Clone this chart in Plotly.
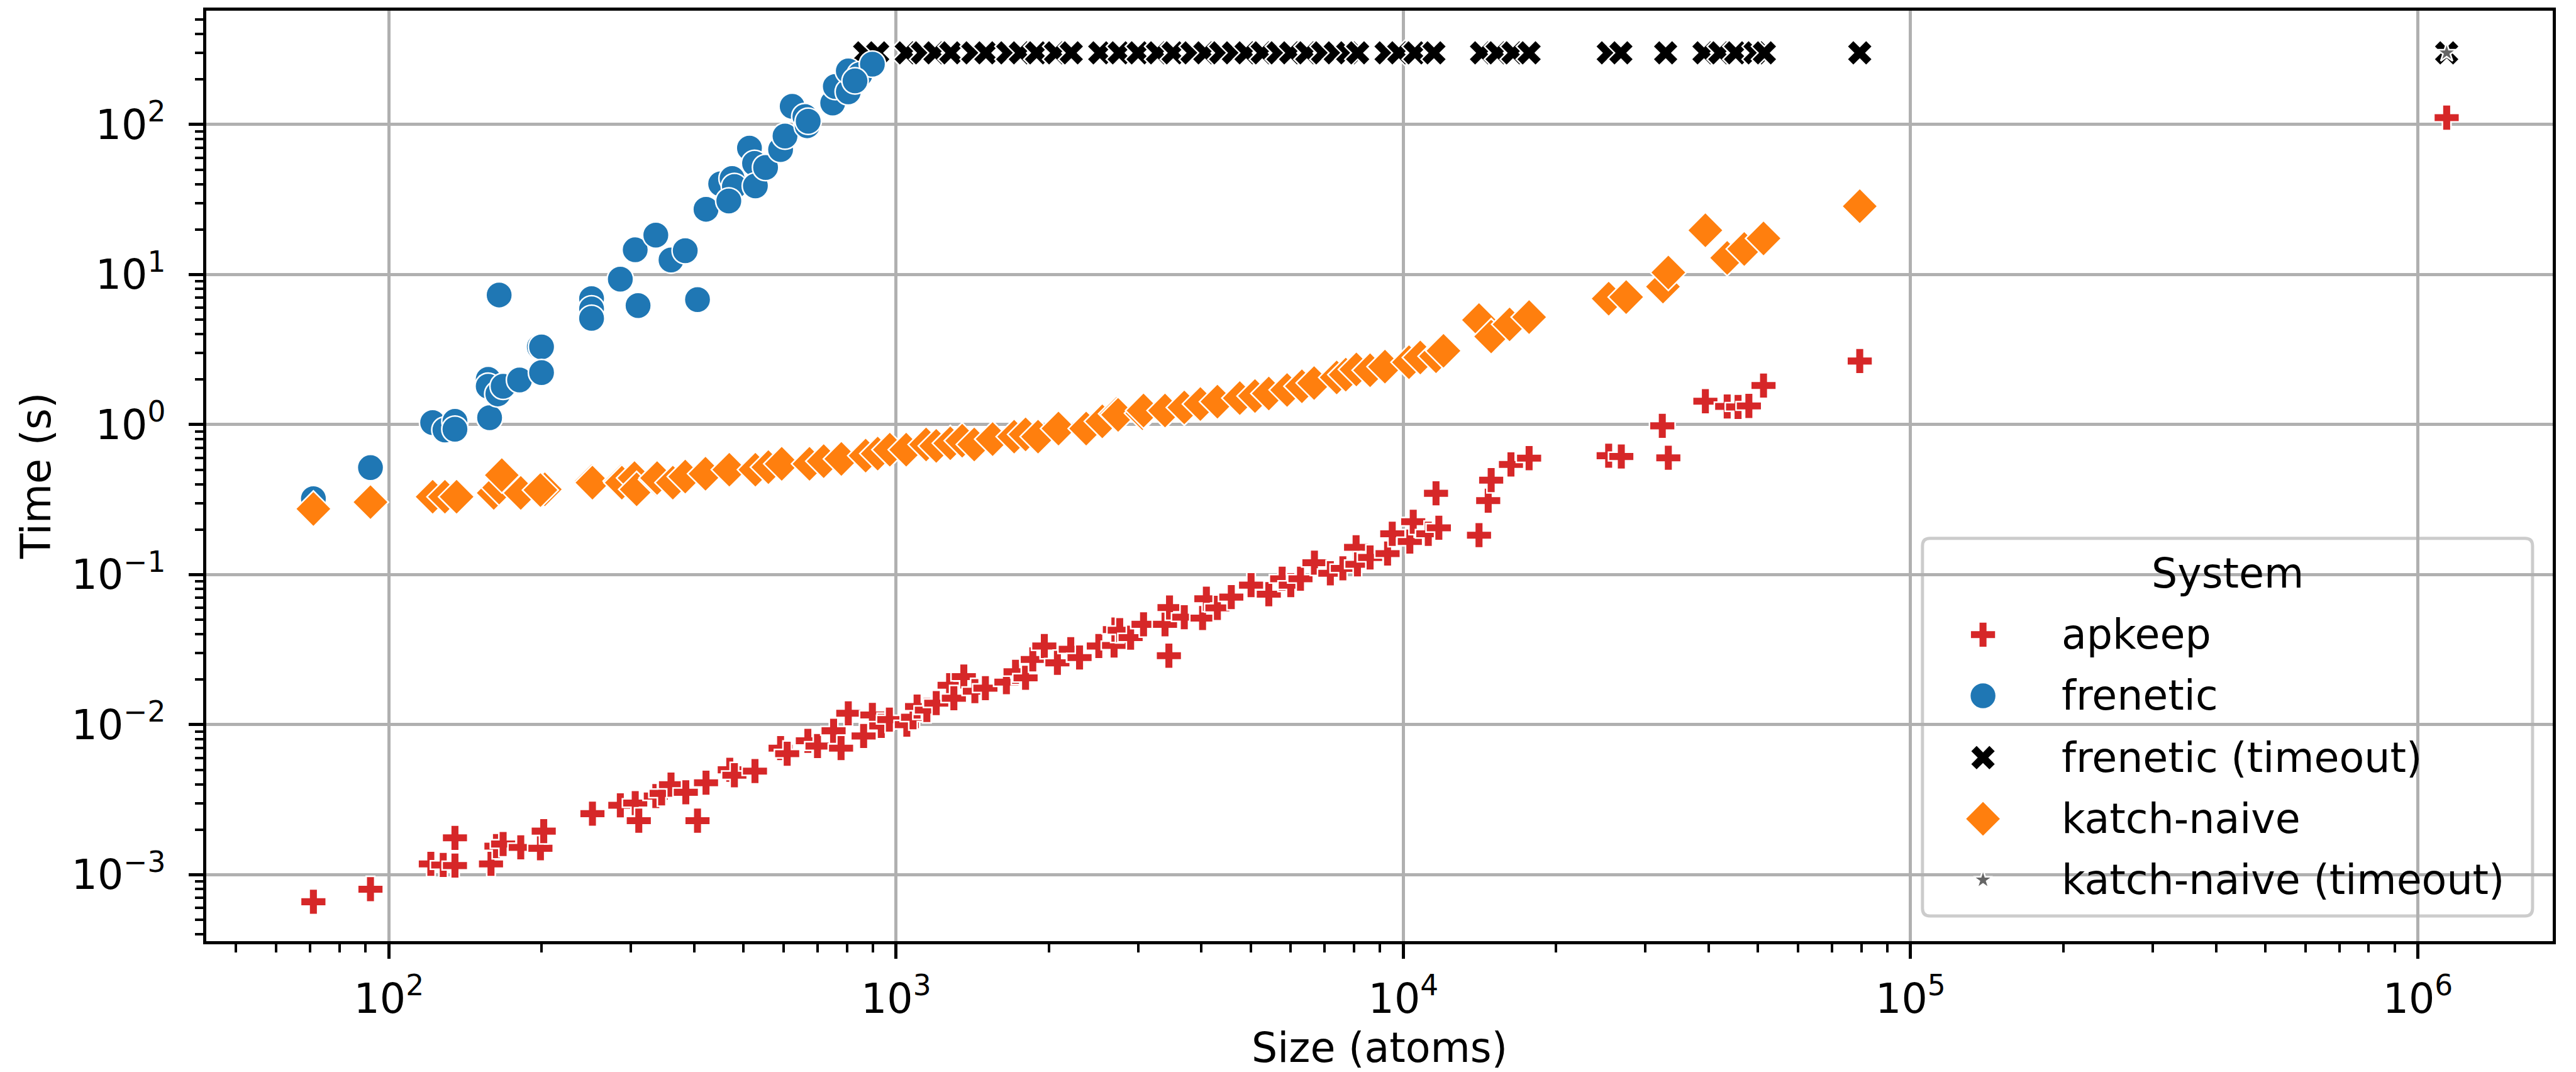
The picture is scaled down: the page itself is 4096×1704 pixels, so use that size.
import plotly.graph_objects as go

# ---------------- data: problem size (atoms) vs. running time (s) ----------------
apkeep_size = [71, 92, 121, 128, 135, 135, 159, 163, 168, 182, 199, 202, 252, 286, 306, 311,
               336, 345, 360, 385, 406, 422, 470, 480, 527, 592, 610, 670, 700, 753, 779, 805,
               863, 898, 935, 970, 1050, 1080, 1100, 1150, 1200, 1275, 1300, 1360, 1430, 1500,
               1650, 1720, 1800, 1860, 1960, 2080, 2210, 2300, 2510, 2690, 2700, 2760, 2900,
               3075, 3390, 3450, 3460, 3700, 4020, 4090, 4300, 4580, 5010, 5430, 5770, 6000,
               6270, 6680, 7180, 7600, 8070, 8120, 8600, 9310, 9510, 10300, 10460, 11200,
               11600, 11750, 14100, 14700, 14900, 16300, 17700, 25400, 26900, 32400, 33300,
               39400, 43500, 45700, 48000, 51300, 79400, 1140000]
apkeep_time = [0.00066, 0.0008, 0.00118, 0.00116, 0.00176, 0.00115, 0.00118, 0.00155, 0.0016,
               0.00152, 0.0015, 0.00195, 0.00255, 0.0029, 0.003, 0.00229, 0.00334, 0.00348,
               0.00398, 0.00354, 0.00229, 0.0041, 0.005, 0.0046, 0.0049, 0.00697, 0.0064,
               0.0078, 0.0072, 0.0091, 0.00697, 0.0119, 0.0084, 0.0116, 0.0098, 0.0108, 0.01,
               0.0112, 0.0132, 0.0125, 0.0139, 0.0183, 0.015, 0.0209, 0.0167, 0.0175, 0.0192,
               0.0225, 0.0205, 0.0272, 0.0334, 0.0258, 0.0318, 0.028, 0.0334, 0.0337, 0.043,
               0.0426, 0.038, 0.0466, 0.0466, 0.0288, 0.0603, 0.052, 0.0513, 0.069, 0.06,
               0.0708, 0.085, 0.074, 0.0938, 0.085, 0.0938, 0.12, 0.102, 0.11, 0.152, 0.117,
               0.13, 0.138, 0.187, 0.166, 0.225, 0.187, 0.348, 0.205, 0.183, 0.311, 0.426,
               0.542, 0.597, 0.62, 0.612, 0.98, 0.6, 1.43, 1.32, 1.31, 1.33, 1.82, 2.65, 111]

frenetic_size = [71, 92, 122, 129, 135, 135, 158, 157, 157, 164, 168, 165, 181, 198, 200, 200,
                 251, 251, 251, 286, 306, 310, 336, 360, 384, 406, 422, 451, 475, 480, 468,
                 514, 526, 528, 553, 592, 604, 624, 661, 668, 671, 750, 759, 805, 805, 849,
                 898, 830]
frenetic_time = [0.32, 0.516, 1.03, 0.92, 1.05, 0.93, 1.11, 2.0, 1.8, 1.6, 1.8, 7.3, 1.98, 3.29,
                 3.29, 2.22, 6.9, 5.9, 5.1, 9.3, 14.6, 6.2, 18.3, 12.5, 14.4, 6.8, 27.2, 40.2,
                 43.6, 38.6, 30.9, 69.5, 55, 38.9, 51.6, 68, 83.7, 132, 113, 98, 105, 139, 179,
                 165, 227, 215, 252, 195]

frenetic_timeout_size = [867, 920, 1047, 1127, 1193, 1282, 1417, 1503, 1660, 1758, 1892, 2062,
                         2215, 2521, 2753, 3000, 3275, 3517, 3831, 4062, 4365, 4624, 4897, 5270,
                         5662, 5996, 6452, 6932, 7342, 7769, 8128, 9247, 9795, 10540, 11490,
                         14260, 15310, 16450, 17700, 25350, 26850, 32900, 39150, 42070, 45200,
                         49350, 51500, 79400, 1140000]
frenetic_timeout_time = [300, 300, 300, 300, 300, 300, 300, 300, 300, 300, 300, 300, 300, 300,
                         300, 300, 300, 300, 300, 300, 300, 300, 300, 300, 300, 300, 300, 300,
                         300, 300, 300, 300, 300, 300, 300, 300, 300, 300, 300, 300, 300, 300,
                         300, 300, 300, 300, 300, 300, 300]

katch_size = [71, 92, 122, 129, 136, 161, 165, 167, 182, 203, 199, 251, 252, 287, 288, 305, 308,
              337, 338, 363, 384, 421, 469, 528, 560, 595, 675, 720, 780, 871, 920, 972, 1047,
              1146, 1200, 1279, 1350, 1426, 1550, 1709, 1800, 1905, 2090, 2370, 2550, 2720,
              2740, 3060, 3075, 3390, 3700, 3980, 4300, 4760, 5100, 5430, 5900, 6310, 6670,
              7390, 7700, 8080, 8600, 9200, 10260, 10800, 11600, 12000, 14100, 14900, 16200,
              17700, 25400, 27500, 32500, 33300, 39400, 43500, 47000, 51300, 79400]
katch_time = [0.274, 0.304, 0.33, 0.33, 0.33, 0.35, 0.38, 0.46, 0.35, 0.37, 0.366, 0.42, 0.41,
              0.42, 0.41, 0.44, 0.37, 0.43, 0.44, 0.41, 0.45, 0.47, 0.50, 0.50, 0.52, 0.547,
              0.547, 0.57, 0.59, 0.62, 0.64, 0.68, 0.68, 0.736, 0.72, 0.75, 0.78, 0.736, 0.8,
              0.83, 0.86, 0.83, 0.94, 0.94, 1.05, 1.18, 1.16, 1.19, 1.24, 1.24, 1.3, 1.37, 1.42,
              1.5, 1.55, 1.61, 1.7, 1.8, 1.89, 2.06, 2.15, 2.33, 2.3, 2.43, 2.6, 2.8, 2.85, 3.1,
              4.97, 3.86, 4.65, 5.2, 6.9, 7.07, 8.3, 10.3, 19.7, 12.9, 14.8, 17.4, 28.5]

katch_timeout_size = [1140000]
katch_timeout_time = [300]

series_names = ["apkeep", "frenetic", "frenetic (timeout)", "katch-naive",
                "katch-naive (timeout)"]

x_tick_vals = [1e2, 1e3, 1e4, 1e5, 1e6]
x_tick_text = ["10<sup>2</sup>", "10<sup>3</sup>", "10<sup>4</sup>", "10<sup>5</sup>",
               "10<sup>6</sup>"]
y_tick_vals = [1e-3, 1e-2, 1e-1, 1e0, 1e1, 1e2]
y_tick_text = ["10<sup>−3</sup>", "10<sup>−2</sup>", "10<sup>−1</sup>", "10<sup>0</sup>",
               "10<sup>1</sup>", "10<sup>2</sup>"]

# ---------------- styling ----------------
W, H = 4096, 1704
ML, MR, MT, MB = 328, 37, 13, 208
FONT = "DejaVu Sans"
FS = 65

styles = {
    "apkeep": dict(symbol="cross", size=34, color="#d62728"),
    "frenetic": dict(symbol="circle", size=42, color="#1f77b4"),
    "frenetic (timeout)": dict(symbol="x", size=36, color="#000000"),
    "katch-naive": dict(symbol="diamond", size=44, color="#ff7f0e"),
    "katch-naive (timeout)": dict(symbol="star", size=23, color="#666666"),
}
series_xy = {
    "apkeep": (apkeep_size, apkeep_time),
    "frenetic": (frenetic_size, frenetic_time),
    "frenetic (timeout)": (frenetic_timeout_size, frenetic_timeout_time),
    "katch-naive": (katch_size, katch_time),
    "katch-naive (timeout)": (katch_timeout_size, katch_timeout_time),
}
draw_order = ["frenetic (timeout)", "apkeep", "frenetic", "katch-naive", "katch-naive (timeout)"]


def marker_of(name):
    st = styles[name]
    return dict(symbol=st["symbol"], size=st["size"], color=st["color"],
                line=dict(color="white", width=2.5))


fig = go.Figure()
for name in draw_order:
    xs, ys = series_xy[name]
    fig.add_trace(go.Scatter(x=xs, y=ys, mode="markers", name=name,
                             marker=marker_of(name), showlegend=False,
                             xaxis="x", yaxis="y"))

# ---------------- legend (drawn in paper space on an overlay axis pair) ----------------
lg_x0, lg_x1, lg_y0, lg_y1 = 0.7314, 0.9914, 0.0270, 0.4329
lg_marker_x, lg_text_x = 0.7572, 0.7901
lg_title_xy = (0.8614, 0.3951)
lg_rows_y = [0.3294, 0.2637, 0.1972, 0.1315, 0.0657]

for name, ry in zip(series_names, lg_rows_y):
    fig.add_trace(go.Scatter(x=[lg_marker_x], y=[ry], mode="markers",
                             marker=marker_of(name), showlegend=False,
                             xaxis="x2", yaxis="y2", hoverinfo="skip"))

pw, ph = W - ML - MR, H - MT - MB
rx, ry_ = 12 / pw, 12 / ph
legend_path = (f"M {lg_x0 + rx},{lg_y0} L {lg_x1 - rx},{lg_y0} Q {lg_x1},{lg_y0} {lg_x1},{lg_y0 + ry_} "
               f"L {lg_x1},{lg_y1 - ry_} Q {lg_x1},{lg_y1} {lg_x1 - rx},{lg_y1} "
               f"L {lg_x0 + rx},{lg_y1} Q {lg_x0},{lg_y1} {lg_x0},{lg_y1 - ry_} "
               f"L {lg_x0},{lg_y0 + ry_} Q {lg_x0},{lg_y0} {lg_x0 + rx},{lg_y0} Z")
fig.add_shape(type="path", path=legend_path, xref="paper", yref="paper",
              line=dict(color="#cccccc", width=5), fillcolor="rgba(255,255,255,0.8)",
              layer="between")

annotations = [
    dict(text="System", x=lg_title_xy[0], y=lg_title_xy[1], xanchor="center", yanchor="middle"),
]
for name, ry in zip(series_names, lg_rows_y):
    annotations.append(dict(text=name, x=lg_text_x, y=ry, xanchor="left", yanchor="middle"))
# axis titles
annotations.append(dict(text="Size (atoms)", x=0.5, y=-0.1145, xanchor="center", yanchor="middle"))
annotations.append(dict(text="Time (s)", x=-0.0725, y=0.5, xanchor="center", yanchor="middle",
                        textangle=-90))
for a in annotations:
    a.update(xref="paper", yref="paper", showarrow=False,
             font=dict(family=FONT, size=FS, color="black"))
fig.update_layout(annotations=annotations)

x_minor = [m * 10 ** k for k in range(1, 7) for m in range(2, 10)]
y_minor = [m * 10.0 ** k for k in range(-4, 3) for m in range(2, 10)]

axis_common = dict(
    type="log", showline=True, linecolor="black", linewidth=5, mirror=True,
    showgrid=True, gridcolor="#b0b0b0", gridwidth=4.5, zeroline=False,
    ticks="outside", ticklen=22.6, tickwidth=5, tickcolor="black",
    tickfont=dict(family=FONT, size=FS, color="black"),
)

fig.update_layout(
    width=W, height=H,
    margin=dict(l=ML, r=MR, t=MT, b=MB, pad=0),
    paper_bgcolor="white", plot_bgcolor="white",
    showlegend=False,
    font=dict(family=FONT, size=FS, color="black"),
    xaxis=dict(range=[1.6401, 6.266], tickvals=x_tick_vals, ticktext=x_tick_text,
               ticklabelstandoff=8,
               minor=dict(tickvals=x_minor, ticks="outside", ticklen=13, tickwidth=3.9,
                          tickcolor="black", showgrid=False),
               **axis_common),
    yaxis=dict(range=[-3.443, 2.758], tickvals=y_tick_vals, ticktext=y_tick_text,
               ticklabelstandoff=24,
               minor=dict(tickvals=y_minor, ticks="outside", ticklen=13, tickwidth=3.9,
                          tickcolor="black", showgrid=False),
               **axis_common),
    xaxis2=dict(overlaying="x", range=[0, 1], visible=False, fixedrange=True),
    yaxis2=dict(overlaying="y", range=[0, 1], visible=False, fixedrange=True),
)

fig.write_html("out.html")
